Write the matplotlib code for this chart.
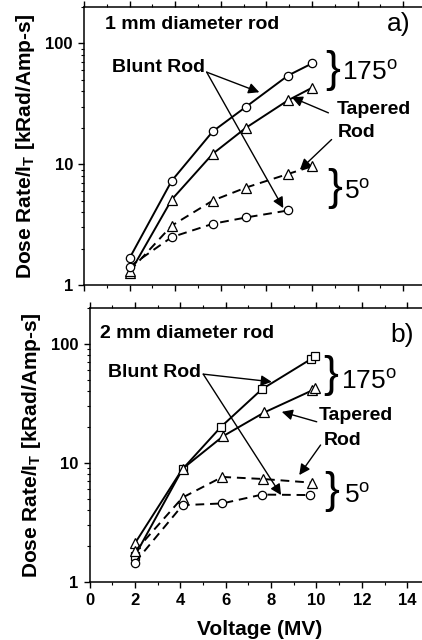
import matplotlib
matplotlib.use("Agg")
import matplotlib.pyplot as plt
from matplotlib.ticker import LogLocator, FixedLocator, FuncFormatter, NullFormatter

plt.rcParams['font.family'] = ['Liberation Sans', 'DejaVu Sans']
plt.rcParams['mathtext.fontset'] = 'custom'
plt.rcParams['mathtext.rm'] = 'Liberation Sans'
plt.rcParams['mathtext.bf'] = 'Liberation Sans:bold'

# ---- (a) 1 mm diameter rod ----
a_volt = [2.0, 3.85, 5.65, 7.1, 8.95, 10.0]
a_blunt175 = [1.67, 7.3, 18.7, 29.8, 54.2, 68.2]
a_taper175 = [1.25, 5.1, 12.2, 20.0, 33.8, 42.9]
a_taper5 = [1.3, 3.1, 5.0, 6.4, 8.3, 9.6]
a_volt_blunt5 = [2.0, 3.85, 5.65, 7.1, 8.95]
a_blunt5 = [1.42, 2.49, 3.21, 3.62, 4.14]

# ---- (b) 2 mm diameter rod ----
b_volt_blunt175 = [2.0, 4.1, 5.8, 7.6, 9.75, 9.95]
b_blunt175 = [1.65, 8.85, 20.1, 41.6, 74.3, 79.3]
b_volt_taper175 = [2.0, 4.1, 5.9, 7.7, 9.8, 9.95]
b_taper175 = [2.1, 8.9, 16.8, 26.5, 40.5, 42.2]
b_volt_taper5 = [2.0, 4.1, 5.85, 7.65, 9.8]
b_taper5 = [1.8, 5.1, 7.6, 7.3, 6.8]
b_volt_blunt5 = [2.0, 4.1, 5.85, 7.6, 9.7]
b_blunt5 = [1.45, 4.4, 4.55, 5.4, 5.35]

ylabel = r"Dose Rate/I$_{\mathbf{T}}$ [kRad/Amp-s]"

# x range runs a bit past the right edge of the figure
xmax = 15.4
fig = plt.figure(figsize=(4.22, 6.4), dpi=100)
ax1 = fig.add_axes([84/422, 1-285/640, xmax*22.8/422, 278/640])
ax2 = fig.add_axes([89.5/422, 1-581.7/640, xmax*22.7/422, 273.7/640])

solid = dict(color='k', lw=1.4, ls='-', mfc='white', mec='k', mew=0.9)
dashed = dict(color='k', lw=1.4, ls=(0, (4.5, 3)), mfc='white', mec='k', mew=0.9)

ax1.plot(a_volt, a_blunt175, marker='o', ms=6, **solid)
ax1.plot(a_volt, a_taper175, marker='^', ms=7, **solid)
ax1.plot(a_volt, a_taper5, marker='^', ms=7, **dashed)
ax1.plot(a_volt_blunt5, a_blunt5, marker='o', ms=6, **dashed)

ax2.plot(b_volt_blunt175, b_blunt175, marker='s', ms=6, **solid)
ax2.plot(b_volt_taper175, b_taper175, marker='^', ms=7, **solid)
ax2.plot(b_volt_taper5, b_taper5, marker='^', ms=7, **dashed)
ax2.plot(b_volt_blunt5, b_blunt5, marker='o', ms=6, **dashed)

for ax in (ax1, ax2):
    ax.set_yscale('log')
    ax.set_xlim(0, xmax)
    ax.set_ylim(1, 200)
    ax.xaxis.set_major_locator(FixedLocator(range(0, 16, 2)))
    ax.xaxis.set_minor_locator(FixedLocator(range(1, 16, 2)))
    ax.yaxis.set_major_locator(FixedLocator([1, 10, 100]))
    ax.yaxis.set_minor_locator(LogLocator(base=10, subs=range(2, 10)))
    ax.yaxis.set_major_formatter(FuncFormatter(lambda v, p: "%d" % v))
    ax.yaxis.set_minor_formatter(NullFormatter())
    ax.tick_params(which='major', direction='out', length=4.5, width=1,
                   labelsize=12, top=True)
    ax.tick_params(which='minor', direction='out', length=2.5, width=0.8,
                   top=True)
    for lab in ax.get_xticklabels() + ax.get_yticklabels():
        lab.set_fontweight('bold')
    for s in ax.spines.values():
        s.set_linewidth(1.1)
    ax.set_ylabel(ylabel, fontsize=15, fontweight='bold', labelpad=6)

ax1.tick_params(axis='x', labelbottom=False)
ax2.set_xlabel("Voltage (MV)", fontsize=15, fontweight='bold', labelpad=9)
# centre the x label under the visible part of the axis (0..15)
ax2.xaxis.label.set_position(((260 - 89.5) / (xmax * 22.7), 0))

arrow = dict(arrowstyle='-|>', color='k', lw=1.0, mutation_scale=16,
             shrinkA=0, shrinkB=0)
bold = dict(fontsize=14, fontweight='bold', va='center', ha='left')

# panel a text
ax1.text(0.92, 144, "1 mm diameter rod", **bold)
ax1.text(13.3, 144, "a)", fontsize=19, va='center', ha='left')
ax1.text(1.23, 63, "Blunt Rod", **bold)
ax1.annotate("", xy=(7.69, 39.4), xytext=(5.38, 57.8), arrowprops=arrow)
ax1.annotate("", xy=(8.74, 4.33), xytext=(5.38, 57.8), arrowprops=arrow)
ax1.text(10.9, 59.7, "}", fontsize=32, va='center', ha='center')
ax1.text(11.3, 57.5, r"175$^{\mathrm{o}}$", fontsize=19, va='center', ha='left')
ax1.text(11.1, 28.3, "Tapered", **bold)
ax1.text(11.14, 18.3, "Rod", **bold)
ax1.annotate("", xy=(9.11, 35.8), xytext=(10.72, 26.6), arrowprops=arrow)
ax1.annotate("", xy=(9.47, 9.0), xytext=(10.86, 16.0), arrowprops=arrow)
ax1.text(11.0, 6.35, "}", fontsize=32, va='center', ha='center')
ax1.text(11.4, 5.9, r"5$^{\mathrm{o}}$", fontsize=19, va='center', ha='left')

# panel b text
ax2.text(0.46, 123, "2 mm diameter rod", **bold)
ax2.text(13.24, 118, "b)", fontsize=19, va='center', ha='left')
ax2.text(0.81, 57.8, "Blunt Rod", **bold)
ax2.annotate("", xy=(8.03, 47.9), xytext=(5.01, 55.6), arrowprops=arrow)
ax2.annotate("", xy=(8.44, 5.35), xytext=(5.01, 55.6), arrowprops=arrow)
ax2.text(10.64, 54.6, "}", fontsize=32, va='center', ha='center')
ax2.text(11.1, 47.9, r"175$^{\mathrm{o}}$", fontsize=19, va='center', ha='left')
ax2.text(10.08, 25.2, "Tapered", **bold)
ax2.text(10.3, 15.5, "Rod", **bold)
ax2.annotate("", xy=(8.47, 26.8), xytext=(10.01, 22.1), arrowprops=arrow)
ax2.annotate("", xy=(9.24, 7.88), xytext=(10.18, 14.1), arrowprops=arrow)
ax2.text(10.68, 5.71, "}", fontsize=32, va='center', ha='center')
ax2.text(11.2, 5.35, r"5$^{\mathrm{o}}$", fontsize=19, va='center', ha='left')

fig.savefig("out.png", dpi=100)
